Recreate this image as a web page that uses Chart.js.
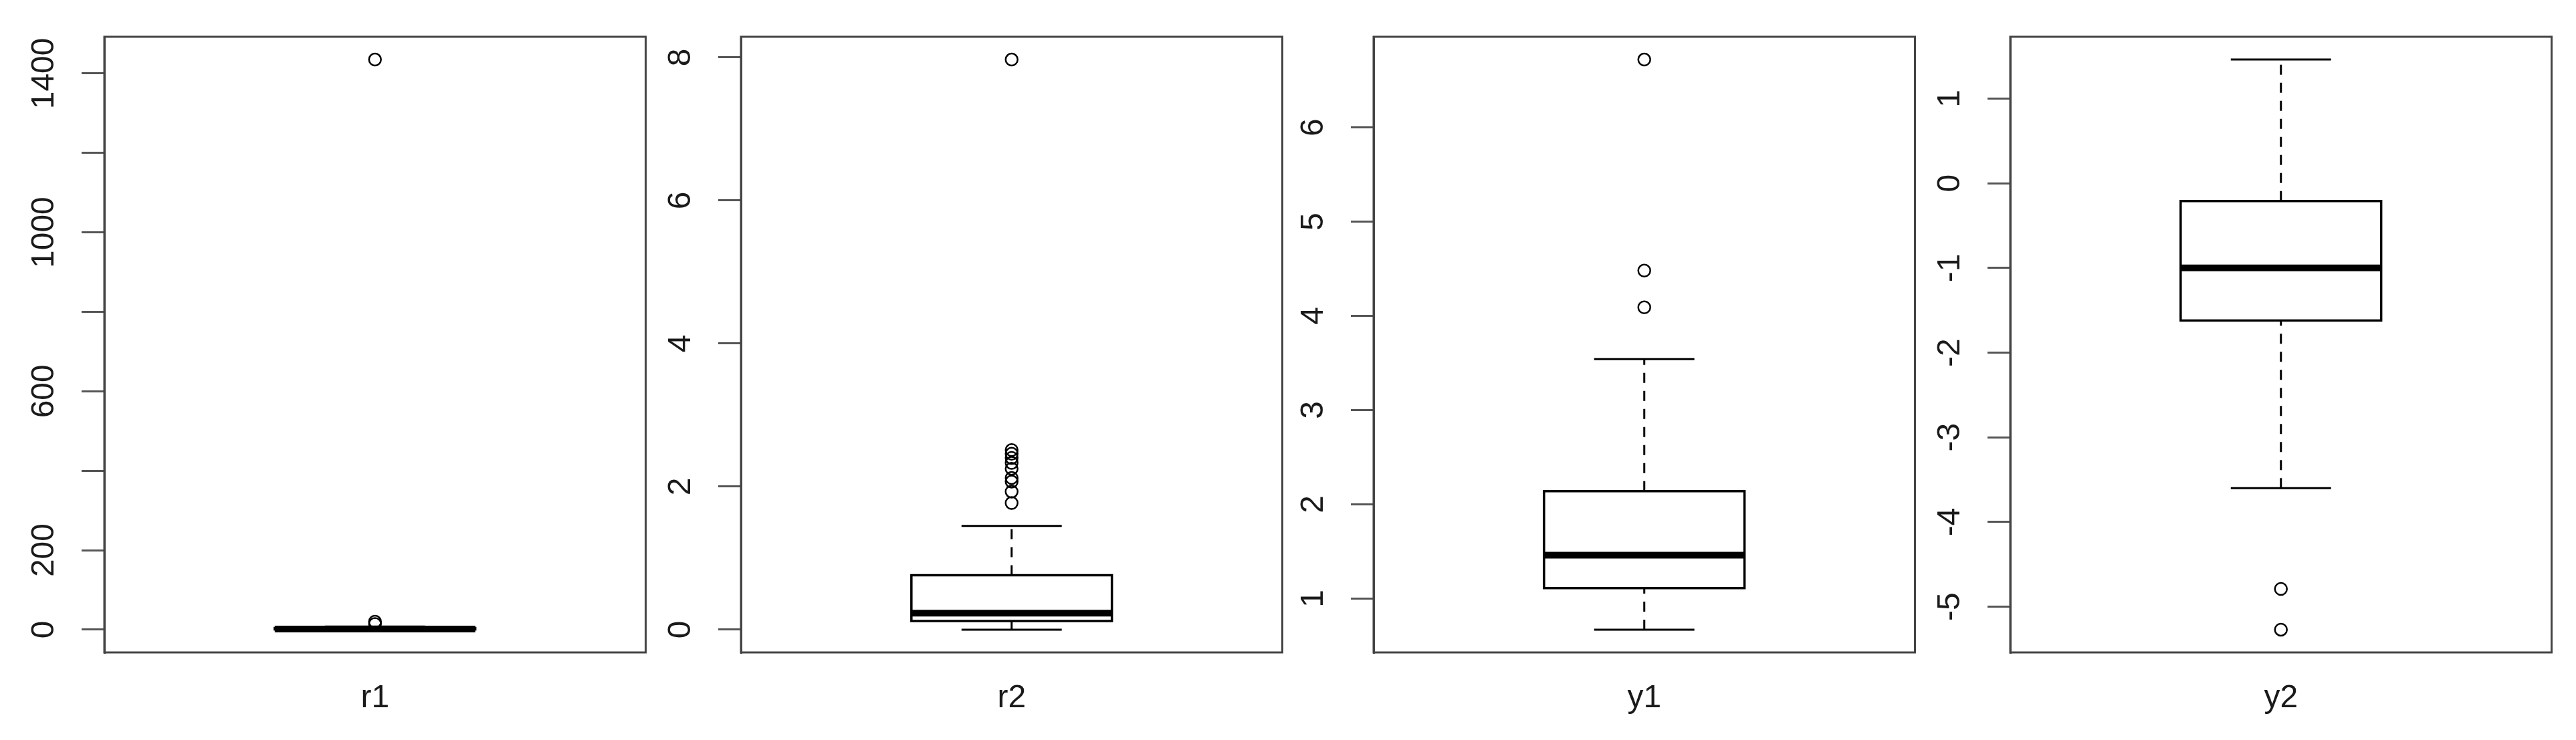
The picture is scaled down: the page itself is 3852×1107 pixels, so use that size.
<!DOCTYPE html>
<html>
<head>
<meta charset="utf-8">
<script src="https://cdn.jsdelivr.net/npm/chart.js@4.4.1/dist/chart.umd.min.js"></script>
<style>
    html, body { margin: 0; padding: 0; background: #fff; }
    body { width: 3852px; height: 1107px; position: relative; overflow: hidden; }
    canvas { position: absolute; top: 0; }
</style>
</head>
<body>
<canvas id="panel0" width="971" height="1107" style="left:6px"></canvas>
<canvas id="panel1" width="971" height="1107" style="left:958px"></canvas>
<canvas id="panel2" width="971" height="1107" style="left:1904px"></canvas>
<canvas id="panel3" width="971" height="1107" style="left:2856px"></canvas>
<script>
/* global Chart */
// stats = [lower whisker, Q1, median, Q3, upper whisker]
const NAMES = ['r1', 'r2', 'y1', 'y2'];

const R1_STATS = [0, 0.5, 1.5, 4, 8];
const R1_OUTLIERS = [14, 20, 1435];
const R1_TICKS = [0, 200, 400, 600, 800, 1000, 1200, 1400];
const R1_TICK_LABELS = ['0', '200', '', '600', '', '1000', '', '1400'];

const R2_STATS = [0, 0.12, 0.23, 0.76, 1.45];
const R2_OUTLIERS = [1.77, 1.93, 2.07, 2.12, 2.25, 2.33, 2.40, 2.46, 2.51, 7.97];
const R2_TICKS = [0, 2, 4, 6, 8];
const R2_TICK_LABELS = ['0', '2', '4', '6', '8'];

const Y1_STATS = [0.67, 1.11, 1.46, 2.14, 3.54];
const Y1_OUTLIERS = [4.09, 4.48, 6.72];
const Y1_TICKS = [1, 2, 3, 4, 5, 6];
const Y1_TICK_LABELS = ['1', '2', '3', '4', '5', '6'];

const Y2_STATS = [-3.60, -1.62, -1.00, -0.21, 1.46];
const Y2_OUTLIERS = [-5.27, -4.79];
const Y2_TICKS = [-5, -4, -3, -2, -1, 0, 1];
const Y2_TICK_LABELS = ['-5', '-4', '-3', '-2', '-1', '0', '1'];

const FONT_FAMILY = '"Liberation Sans", Arial, sans-serif';
const FONT_SIZE = 48;
const TEXT = '#1a1a1a';
const FRAME = '#444';

// x layout like R: single box at 1, xlim 0.5..1.5 plus 4%
const CENTER = 1;
const BOX_HALF = 0.2;
const CAP_HALF = 0.1;
const X_MIN = 0.46;
const X_MAX = 1.54;

const AXIS_W = 150;
const TICK_LEN = 34;
const LABEL_GAP = 89;

const framePlugin = {
    id: 'frame',
    afterDraw(chart) {
        const { ctx, chartArea: a } = chart;
        ctx.save();
        ctx.strokeStyle = FRAME;
        ctx.lineWidth = 3;
        ctx.strokeRect(a.left, a.top, a.right - a.left, a.bottom - a.top);
        ctx.restore();
    }
};

function widest(labels) {
    const ctx = document.createElement('canvas').getContext('2d');
    ctx.font = FONT_SIZE + 'px ' + FONT_FAMILY;
    return Math.max(...labels.map(l => ctx.measureText(l).width));
}

function seg(points, extra) {
    return Object.assign({
        type: 'line',
        data: points,
        borderColor: '#000',
        borderWidth: 3,
        pointRadius: 0,
        fill: false,
        tension: 0,
        borderCapStyle: 'butt'
    }, extra || {});
}

function makePanel(id, name, stats, outliers, ticks, tickLabels) {
    const [lo, q1, med, q3, hi] = stats;
    const all = [lo, hi, ...outliers];
    const dMin = Math.min(...all);
    const dMax = Math.max(...all);
    const ext = (dMax - dMin) * 0.04;
    const L = CENTER - BOX_HALF;
    const R = CENTER + BOX_HALF;
    const dash = { borderDash: [15, 12] };

    new Chart(document.getElementById(id), {
        type: 'scatter',
        data: {
            datasets: [
                seg([{ x: L, y: med }, { x: R, y: med }], { borderWidth: 10 }),
                seg([{ x: L, y: q1 }, { x: R, y: q1 }, { x: R, y: q3 }, { x: L, y: q3 }, { x: L, y: q1 }],
                    { borderWidth: 3.5, borderCapStyle: 'square', borderJoinStyle: 'miter' }),
                seg([{ x: CENTER - CAP_HALF, y: hi }, { x: CENTER + CAP_HALF, y: hi }]),
                seg([{ x: CENTER - CAP_HALF, y: lo }, { x: CENTER + CAP_HALF, y: lo }]),
                seg([{ x: CENTER, y: q3 }, { x: CENTER, y: hi }], dash),
                seg([{ x: CENTER, y: lo }, { x: CENTER, y: q1 }], dash),
                {
                    type: 'scatter',
                    data: outliers.map(v => ({ x: CENTER, y: v })),
                    pointRadius: 9,
                    pointBorderWidth: 2.5,
                    pointBorderColor: '#000',
                    pointBackgroundColor: 'rgba(0,0,0,0)'
                }
            ]
        },
        options: {
            responsive: false,
            animation: false,
            events: [],
            layout: { padding: { top: 55, right: 10, bottom: 0, left: 0 } },
            plugins: {
                legend: { display: false },
                tooltip: { enabled: false }
            },
            scales: {
                x: {
                    type: 'linear',
                    min: X_MIN,
                    max: X_MAX,
                    grid: { display: false, drawTicks: false },
                    border: { display: false },
                    ticks: { display: false },
                    title: {
                        display: true,
                        text: name,
                        color: TEXT,
                        font: { family: FONT_FAMILY, size: FONT_SIZE, lineHeight: 1.2 },
                        padding: { top: 0, bottom: 33 }
                    },
                    afterFit: s => {
                        s.height = 131;
                        s.paddingLeft = 0;
                        s.paddingRight = 0;
                    }
                },
                y: {
                    type: 'linear',
                    bounds: 'data',
                    min: dMin - ext,
                    max: dMax + ext,
                    afterBuildTicks: s => { s.ticks = ticks.map(v => ({ value: v })); },
                    grid: {
                        drawOnChartArea: false,
                        drawTicks: true,
                        tickLength: TICK_LEN,
                        color: '#555',
                        tickColor: '#555',
                        lineWidth: 3
                    },
                    border: { display: true, color: FRAME, width: 3 },
                    ticks: {
                        minRotation: 90,
                        maxRotation: 90,
                        crossAlign: 'center',
                        padding: LABEL_GAP - TICK_LEN - widest(tickLabels) / 2,
                        color: TEXT,
                        font: { family: FONT_FAMILY, size: FONT_SIZE },
                        callback: (v, i) => tickLabels[i]
                    },
                    afterFit: s => {
                        s.width = AXIS_W;
                        s.paddingTop = 0;
                        s.paddingBottom = 0;
                    }
                }
            }
        },
        plugins: [framePlugin]
    });
}

makePanel('panel0', NAMES[0], R1_STATS, R1_OUTLIERS, R1_TICKS, R1_TICK_LABELS);
makePanel('panel1', NAMES[1], R2_STATS, R2_OUTLIERS, R2_TICKS, R2_TICK_LABELS);
makePanel('panel2', NAMES[2], Y1_STATS, Y1_OUTLIERS, Y1_TICKS, Y1_TICK_LABELS);
makePanel('panel3', NAMES[3], Y2_STATS, Y2_OUTLIERS, Y2_TICKS, Y2_TICK_LABELS);
</script>
</body>
</html>
